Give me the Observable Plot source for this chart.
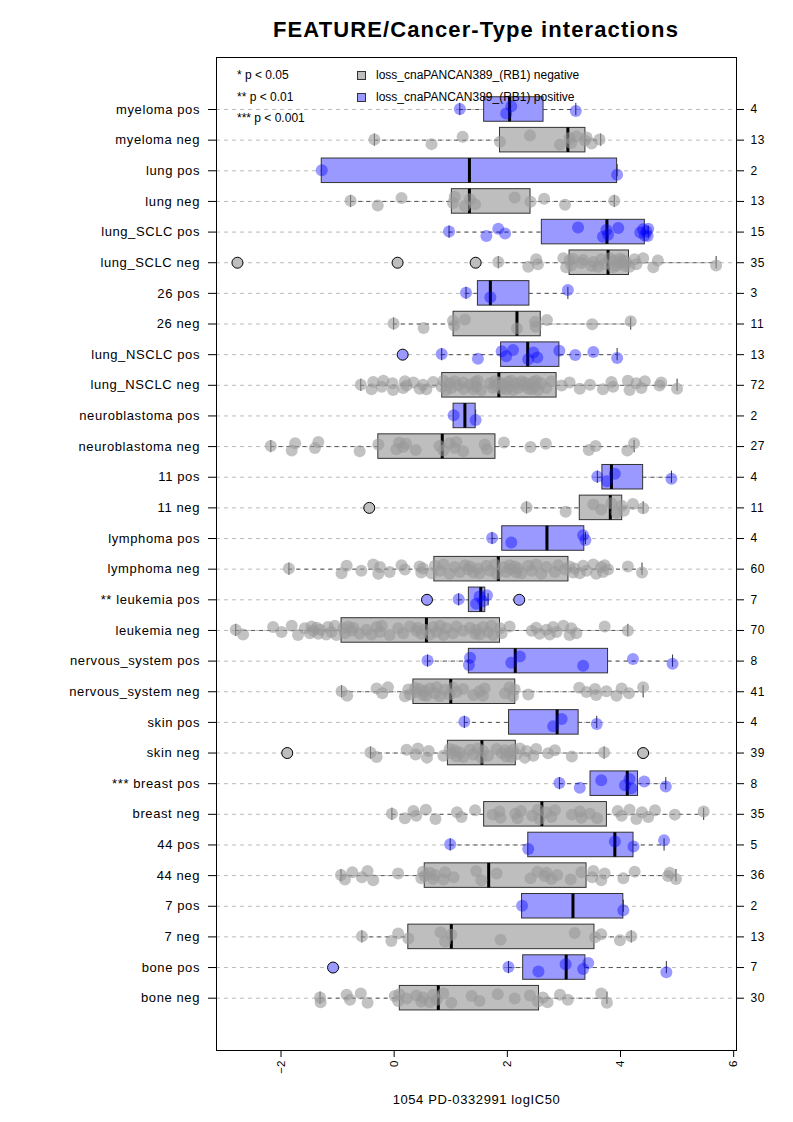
<!DOCTYPE html>
<html><head><meta charset="utf-8">
<script src="https://cdn.jsdelivr.net/npm/d3@7"></script>
<script src="https://cdn.jsdelivr.net/npm/@observablehq/plot@0.6"></script>
<style>
body{margin:0;background:#fff;font-family:"Liberation Sans",Arial,Helvetica,sans-serif;color:#000;}
#wrap{position:relative;width:793px;height:1122px;overflow:hidden;}
#title{position:absolute;left:216px;width:520px;top:0;height:56px;text-align:center;font-weight:bold;font-size:22px;letter-spacing:1.1px;line-height:60px;}
#chart{position:absolute;left:0;top:56px;}
.lg{position:absolute;font-size:12px;line-height:14px;height:14px;white-space:nowrap;}
.sq{position:absolute;width:7px;height:7px;border:1px solid #333;}
#chart g[aria-label="y-axis tick label"] text{letter-spacing:0.6px;}
#chart g[aria-label="text"] text{letter-spacing:0.6px;}
</style></head>
<body>
<div id="wrap">
  <div id="title">FEATURE/Cancer-Type interactions</div>
  <div id="chart"></div>
  <div class="lg" style="left:237px;top:68px">* p &lt; 0.05</div>
  <div class="lg" style="left:237px;top:90px">** p &lt; 0.01</div>
  <div class="lg" style="left:237px;top:111px">*** p &lt; 0.001</div>
  <div class="sq" style="left:357px;top:71px;background:#BEBEBE"></div>
  <div class="sq" style="left:357px;top:93px;background:#9999FF"></div>
  <div class="lg" style="left:376px;top:68px">loss_cnaPANCAN389_(RB1) negative</div>
  <div class="lg" style="left:376px;top:90px">loss_cnaPANCAN389_(RB1) positive</div>
</div>
<script>
// ---- data (top row first) ----
const labels = ["myeloma pos","myeloma neg","lung pos","lung neg","lung_SCLC pos","lung_SCLC neg","26 pos","26 neg","lung_NSCLC pos","lung_NSCLC neg","neuroblastoma pos","neuroblastoma neg","11 pos","11 neg","lymphoma pos","lymphoma neg","** leukemia pos","leukemia neg","nervous_system pos","nervous_system neg","skin pos","skin neg","*** breast pos","breast neg","44 pos","44 neg","7 pos","7 neg","bone pos","bone neg"];
const groups = ["positive","negative","positive","negative","positive","negative","positive","negative","positive","negative","positive","negative","positive","negative","positive","negative","positive","negative","positive","negative","positive","negative","positive","negative","positive","negative","positive","negative","positive","negative"];
const counts = [4,13,2,13,15,35,3,11,13,72,2,27,4,11,4,60,7,70,8,41,4,39,8,35,5,36,2,13,7,30];
const whiskerLo = [1.16,-0.35,-1.28,-0.77,0.97,1.84,1.27,-0.01,0.84,-0.59,1.05,-2.18,3.59,2.34,1.73,-1.86,1.14,-2.80,0.59,-0.93,1.24,-0.42,2.92,-0.04,0.99,-0.94,2.26,-0.57,2.02,-1.31];
const q1        = [1.59,1.87,-1.28,1.02,2.61,3.10,1.48,1.05,1.89,0.85,1.05,-0.28,3.68,3.28,1.91,0.71,1.32,-0.93,1.32,0.34,2.03,0.95,3.47,1.59,2.37,0.54,2.26,0.25,2.28,0.10];
const median    = [2.04,3.07,1.33,1.33,3.76,3.78,1.70,2.17,2.36,1.85,1.25,0.85,3.84,3.82,2.70,1.84,1.53,0.57,2.14,1.00,2.88,1.55,4.12,2.61,3.90,1.67,3.16,1.01,3.04,0.78];
const q3        = [2.64,3.38,3.94,2.41,4.43,4.15,2.39,2.59,2.92,2.87,1.44,1.79,4.40,4.03,3.36,3.08,1.61,1.87,3.78,2.14,3.26,2.15,4.31,3.76,4.23,3.40,4.05,3.54,3.38,2.56];
const whiskerHi = [3.21,3.65,3.94,3.89,4.49,5.69,3.07,4.18,3.94,5.00,1.44,4.24,4.90,4.40,3.38,4.38,1.66,4.13,4.92,4.40,3.58,3.71,4.80,5.47,4.77,4.98,4.05,4.19,4.81,3.76];
const outliers = [[],[],[],[],[],[-2.77,0.06,1.44],[],[],[0.15],[],[],[],[],[-0.44],[],[],[0.58,2.21],[],[],[],[],[-1.89,4.40],[],[],[],[],[],[],[-1.08],[]];
const values = [
 [1.16,1.98,2.07,3.21],
 [-0.35,0.66,1.21,1.87,2.40,2.93,3.10,3.13,3.22,3.37,3.40,3.49,3.63],
 [-1.28,3.94],
 [-0.77,-0.29,0.13,1.04,1.07,1.25,1.34,1.43,2.13,2.41,2.65,3.02,3.89],
 [0.97,1.63,1.84,1.96,3.25,3.69,3.75,3.78,3.96,4.35,4.40,4.43,4.46,4.48,4.49],
 [1.84,2.37,2.51,2.54,2.99,3.04,3.10,3.13,3.16,3.31,3.34,3.49,3.52,3.60,3.66,3.72,3.81,3.87,3.90,3.93,3.99,4.02,4.05,4.08,4.10,4.16,4.25,4.28,4.40,4.58,4.66,5.69],
 [1.27,1.70,3.07],
 [-0.01,0.52,1.04,1.06,1.25,2.17,2.49,2.50,2.70,3.50,4.18],
 [0.84,1.48,1.90,1.98,2.10,2.37,2.46,2.53,2.92,3.20,3.52,3.94],
 [-0.59,-0.40,-0.37,-0.22,-0.19,-0.02,-0.03,0.16,0.19,0.22,0.34,0.45,0.51,0.57,0.69,0.84,0.87,0.92,0.98,1.01,1.07,1.13,1.22,1.23,1.34,1.40,1.43,1.45,1.48,1.54,1.69,1.75,1.78,1.81,1.87,1.90,1.93,1.98,2.01,2.04,2.07,2.10,2.16,2.19,2.25,2.28,2.31,2.37,2.40,2.43,2.46,2.49,2.51,2.54,2.60,2.69,2.78,2.96,3.10,3.28,3.46,3.69,3.84,3.87,4.13,4.16,4.28,4.37,4.43,4.69,4.72,5.00],
 [1.05,1.44],
 [-2.18,-1.81,-1.75,-1.40,-1.34,-0.61,-0.28,0.04,0.09,0.16,0.21,0.38,0.80,0.87,0.98,1.07,1.10,1.22,1.60,1.64,1.94,2.41,2.68,3.44,3.56,4.12,4.24],
 [3.59,3.76,3.90,4.90],
 [2.34,3.03,3.52,3.66,3.84,3.93,4.02,4.06,4.22,4.40],
 [1.73,2.07,3.34,3.38],
 [-1.86,-0.93,-0.84,-0.58,-0.37,-0.28,-0.25,-0.08,0.13,0.19,0.45,0.48,0.51,0.66,0.72,0.81,0.87,0.98,1.07,1.16,1.25,1.31,1.34,1.40,1.48,1.51,1.63,1.69,1.78,1.81,1.93,1.98,2.04,2.07,2.13,2.16,2.19,2.25,2.37,2.43,2.51,2.60,2.69,2.84,2.90,3.02,3.10,3.16,3.19,3.28,3.34,3.40,3.52,3.57,3.66,3.69,3.72,3.78,4.13,4.38],
 [1.14,1.45,1.51,1.57,1.64],
 [-2.80,-2.67,-2.14,-1.99,-1.81,-1.70,-1.58,-1.49,-1.46,-1.43,-1.37,-1.34,-1.31,-1.20,-1.17,-1.11,-1.05,-1.02,-0.90,-0.87,-0.81,-0.75,-0.72,-0.61,-0.49,-0.40,-0.31,-0.25,-0.22,-0.08,0.07,0.16,0.28,0.39,0.42,0.48,0.54,0.63,0.69,0.75,0.81,0.87,0.92,1.04,1.10,1.22,1.34,1.43,1.45,1.51,1.57,1.66,1.72,1.75,1.87,1.90,2.04,2.43,2.51,2.57,2.69,2.75,2.81,2.87,2.99,3.10,3.13,3.22,3.72,4.13],
 [0.59,1.32,1.34,2.07,2.22,3.34,4.22,4.92],
 [-0.93,-0.83,-0.31,-0.21,-0.11,0.19,0.25,0.28,0.37,0.39,0.45,0.51,0.54,0.57,0.63,0.72,0.75,0.81,0.90,0.98,1.04,1.10,1.22,1.40,1.51,1.57,1.60,1.96,2.04,2.10,2.13,2.37,3.27,3.40,3.55,3.57,3.75,3.93,4.02,4.15,4.40],
 [1.24,2.81,2.96,3.58],
 [-0.42,-0.31,0.22,0.38,0.42,0.58,0.61,0.87,0.98,1.01,1.07,1.10,1.16,1.22,1.34,1.40,1.48,1.54,1.57,1.66,1.81,1.90,1.96,1.98,2.04,2.07,2.10,2.16,2.22,2.31,2.34,2.46,2.51,2.72,2.84,3.14,3.71],
 [2.92,3.28,3.66,4.08,4.16,4.19,4.42,4.80],
 [-0.04,0.19,0.34,0.39,0.56,0.73,1.11,1.19,1.43,1.74,1.86,1.88,2.14,2.18,2.24,2.44,2.54,2.57,2.69,2.78,2.84,3.14,3.28,3.31,3.46,3.59,3.95,4.02,4.16,4.28,4.38,4.49,4.61,4.96,5.47],
 [0.99,2.37,3.90,4.23,4.77],
 [-0.94,-0.87,-0.74,-0.57,-0.47,-0.37,0.07,0.48,0.51,0.54,0.63,0.69,0.72,0.87,0.90,1.05,1.45,1.54,1.81,2.41,2.53,2.66,2.69,2.78,2.88,3.12,3.31,3.50,3.52,3.66,3.72,4.05,4.25,4.84,4.87,4.98],
 [2.26,4.05],
 [-0.57,-0.05,0.07,0.25,0.82,0.90,1.01,1.88,3.19,3.55,3.66,3.99,4.19],
 [2.02,2.55,3.03,3.34,3.43,4.81],
 [-1.31,-1.30,-0.84,-0.78,-0.59,-0.47,0.01,0.07,0.09,0.22,0.39,0.48,0.51,0.63,0.69,0.75,0.87,1.01,1.37,1.51,1.83,2.13,2.40,2.54,2.63,2.71,2.93,3.07,3.66,3.76]
];
const xTicks = [-2, 0, 2, 4, 6];
const xLabel = "1054 PD-0332991 logIC50";

// ---- styling ----
const boxFill = {negative: "#BEBEBE", positive: "#9999FF"};
const dotFill = {negative: "#999999", positive: "#0000FF"};
const dotOpacity = {negative: 0.6, positive: 0.4};
const jitterPattern = [0.02,-0.13,0.11,-0.05,0.15,-0.15,0.07,-0.09,0.13,-0.01,0.09,-0.11];
const boxHalf = 0.4, stapleHalf = 0.2;

const N = labels.length;
const rows = labels.map((label, i) => ({
  label, pos: N - i, group: groups[i], n: counts[i],
  lo: whiskerLo[i], q1: q1[i], med: median[i], q3: q3[i], hi: whiskerHi[i]
}));
const labelByPos = new Map(rows.map(r => [r.pos, r.label]));
const countByPos = new Map(rows.map(r => [r.pos, r.n]));
const pts = rows.flatMap((r, i) => values[i].map((v, j) => ({
  x: v, y: r.pos + jitterPattern[j % jitterPattern.length], group: r.group
})));
const outs = rows.flatMap((r, i) => outliers[i].map(v => ({x: v, y: r.pos, group: r.group})));

const chart = Plot.plot({
  width: 793, height: 1066,
  marginLeft: 216, marginRight: 57, marginTop: 1, marginBottom: 72,
  style: {fontFamily: '"Liberation Sans", Arial, Helvetica, sans-serif', color: "#000", background: "#fff", overflow: "visible"},
  x: {domain: [-3.14, 6.05]},
  y: {domain: [-0.707, 31.697]},
  marks: [
    Plot.ruleY(rows, {y: "pos", stroke: "#bbbbbb", strokeDasharray: "4,4", strokeWidth: 1}),
    Plot.ruleY(rows, {y: "pos", x1: "lo", x2: "q1", stroke: "#555", strokeDasharray: "4,4"}),
    Plot.ruleY(rows, {y: "pos", x1: "q3", x2: "hi", stroke: "#555", strokeDasharray: "4,4"}),
    Plot.ruleX(rows, {x: "lo", y1: d => d.pos - stapleHalf, y2: d => d.pos + stapleHalf, stroke: "#333"}),
    Plot.ruleX(rows, {x: "hi", y1: d => d.pos - stapleHalf, y2: d => d.pos + stapleHalf, stroke: "#333"}),
    Plot.rect(rows, {x1: "q1", x2: "q3", y1: d => d.pos - boxHalf, y2: d => d.pos + boxHalf,
      fill: d => boxFill[d.group], stroke: "#333", strokeWidth: 1}),
    Plot.ruleX(rows, {x: "med", y1: d => d.pos - boxHalf, y2: d => d.pos + boxHalf, stroke: "#000", strokeWidth: 3}),
    Plot.dot(pts, {x: "x", y: "y", r: 6, fill: d => dotFill[d.group], fillOpacity: d => dotOpacity[d.group], stroke: "none"}),
    Plot.dot(outs, {x: "x", y: "y", r: 5.5, fill: d => boxFill[d.group], stroke: "#000", strokeWidth: 1}),
    Plot.frame({stroke: "#000", strokeWidth: 1}),
    Plot.axisY({anchor: "left", ticks: rows.map(r => r.pos), tickFormat: p => labelByPos.get(p),
      tickSize: 8, tickPadding: 8.5, fontSize: 13, label: null}),
    Plot.axisY({anchor: "right", ticks: rows.map(r => r.pos), tickFormat: p => countByPos.get(p),
      tickSize: 7, tickPadding: 7, fontSize: 12, label: null}),
    Plot.axisX({ticks: xTicks, tickSize: 7, tickPadding: 3, tickRotate: -90, fontSize: 11.5, label: null}),
    Plot.text([xLabel], {text: d => d, frameAnchor: "bottom", dy: 53, fontSize: 13})
  ]
});
document.getElementById("chart").appendChild(chart);
</script>
</body></html>
